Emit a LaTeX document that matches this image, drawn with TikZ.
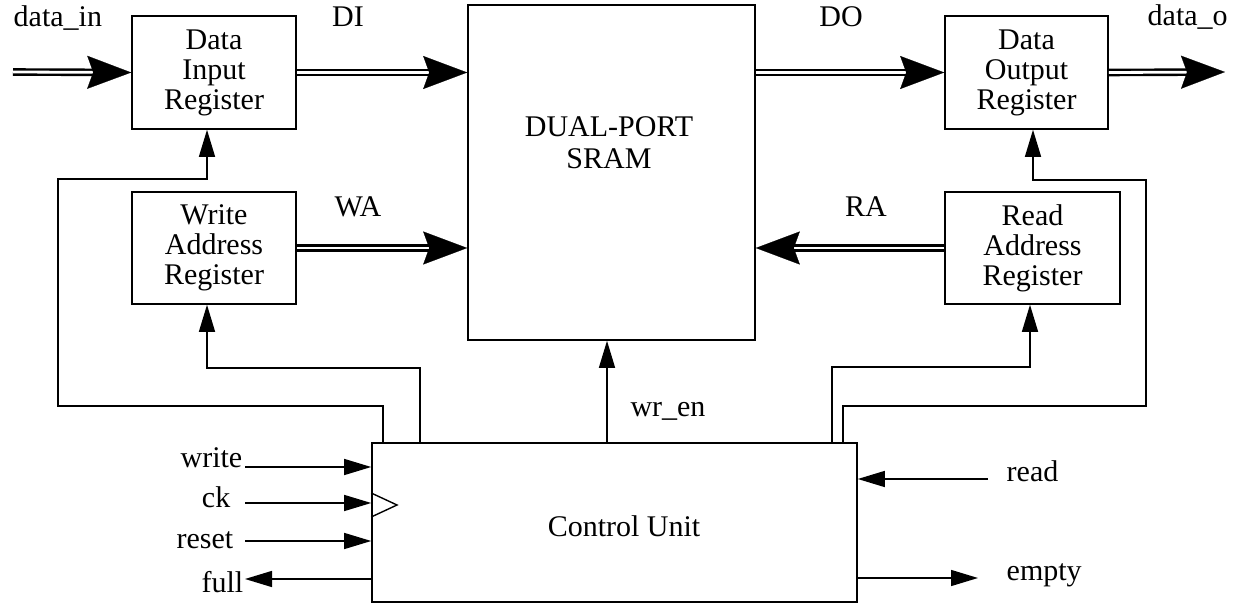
\documentclass[tikz,border=0pt]{standalone}
\usepackage{fontspec}
\setmainfont{Liberation Serif}
\usetikzlibrary{arrows.meta}

\begin{document}
\begin{tikzpicture}[x=0.5pt, y=-0.5pt, line width=0.7pt,
  every node/.style={font=\fontsize{15}{15}\selectfont, inner sep=0pt},
  box/.style={draw, line width=0.8pt, align=center},
  busline/.style={double, double distance=1.4pt, line width=1.2pt, shorten >=18pt},
  bustip/.style={draw=white, line width=0.1pt, -{Stealth[length=22pt, width=16.5pt, inset=3pt, color=black]}},
  ctl/.style={-{Triangle[length=13.5pt, width=8pt]}}]
  \useasboundingbox (0,0) rectangle (1233,604);

  % 1. 寄存器、存储器与控制单元
  \node[box, minimum width=82pt, minimum height=56.5pt] (dir) at (214,72.5) {Data\\Input\\Register};
  \node[box, minimum width=82pt, minimum height=56pt] (war) at (214,248) {Write\\Address\\Register};
  \node[box, minimum width=143.5pt, minimum height=167.5pt] (sram) at (611.5,172.5) {};
  \node[align=center] (sramtxt) at (609,143) {DUAL-PORT\\[1pt]SRAM};
  \node[box, minimum width=81.5pt, minimum height=56.5pt] (dor) at (1026.5,72.5) {Data\\Output\\Register};
  \node[box, minimum width=87.5pt, minimum height=56pt] (rar) at (1032.5,248) {Read\\Address\\Register};
  \node[box, minimum width=242.5pt, minimum height=79.5pt] (cu) at (614.5,522.5) {};
  \node (cutxt) at (624,526) {Control Unit};
  \draw (cu.west |- 0,493) -- (397,505) -- (cu.west |- 0,517); % 时钟符号

  % 2. 总线 (双线, 再补实心箭头)
  \coordinate (din) at (13,72);
  \coordinate (dout) at (1225,72);
  \foreach \s/\t in {din/dir.west, dir.east/dir.east -| sram.west, war.east/war.east -| sram.west,
                     rar.west/rar.west -| sram.east, sram.east |- dor.west/dor.west, dor.east/dout} {
    \draw[busline] (\s) -- (\t);
    \draw[bustip] (\s) -- (\t);
  }
  \node[anchor=base west] (ldin) at (13,27) {data\_in};
  \node[anchor=base] (ldi) at (348,27) {DI};
  \node[anchor=base] (lwa) at (358,217) {WA};
  \node[anchor=base] (ldo) at (841,27) {DO};
  \node[anchor=base] (lra) at (866,217) {RA};
  \node[anchor=base west] (ldout) at (1147,26) {data\_o};

  % 3. 控制信号
  \draw[ctl] (607,0 |- cu.north) -- (607,0 |- sram.south);
  \node[anchor=base] (lwren) at (668,417) {wr\_en};
  \draw[ctl] (383,0 |- cu.north) -- (383,406) -- (58,406) -- (58,179) -- (207,179) -- (207,0 |- dir.south);
  \draw[ctl] (420,0 |- cu.north) -- (420,368) -- (207,368) -- (207,0 |- war.south);
  \draw[ctl] (832,0 |- cu.north) -- (832,367) -- (1030,367) -- (1030,0 |- rar.south);
  \draw[ctl] (843,0 |- cu.north) -- (843,406) -- (1146,406) -- (1146,180) -- (1033,180) -- (1033,0 |- dor.south);

  % 4. 外部输入输出
  \coordinate (wr) at (245,467);
  \coordinate (ck) at (245,503);
  \coordinate (rs) at (245,541);
  \coordinate (fl) at (245,579);
  \coordinate (rd) at (988,479);
  \coordinate (em) at (978,578);
  \draw[ctl] (wr) -- (wr -| cu.west);
  \draw[ctl] (ck) -- (ck -| cu.west);
  \draw[ctl] (rs) -- (rs -| cu.west);
  \draw[ctl] (fl -| cu.west) -- (fl);
  \draw[ctl] (rd) -- (rd -| cu.east);
  \draw[ctl] (em -| cu.east) -- (em);
  \node[anchor=east] (lwr) at (243,458) {write};
  \node[anchor=east] (lck) at (231,497) {ck};
  \node[anchor=east] (lrs) at (234,540) {reset};
  \node[anchor=east] (lfl) at (244,582) {full};
  \node[anchor=west] (lrd) at (1006,471) {read};
  \node[anchor=west] (lem) at (1006,575) {empty};
\end{tikzpicture}
\end{document}
